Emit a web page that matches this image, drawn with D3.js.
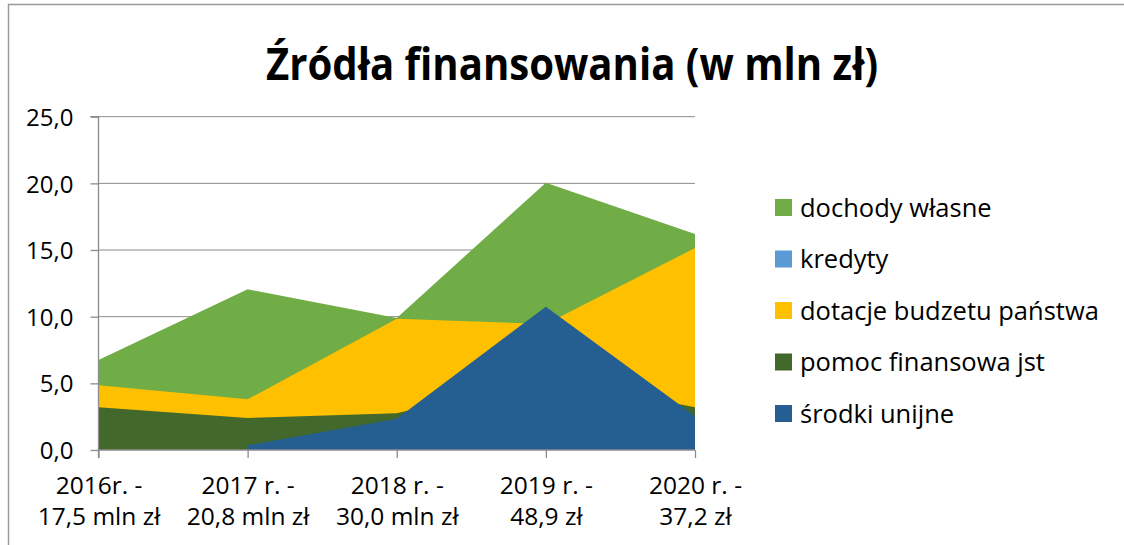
<!DOCTYPE html>
<html>
<head>
<meta charset="utf-8">
<script src="https://cdn.jsdelivr.net/npm/d3@7"></script>
<style>
  body { margin: 0; background: #fff; }
  text { font-family: "Open Sans", sans-serif; fill: #000; }
</style>
</head>
<body>
<div id="chart-container"></div>
<script>
// categories (two-line labels under the x axis)
var yearLabels = ["2016r. -", "2017 r. -", "2018 r. -", "2019 r. -", "2020 r. -"];
var totalLabels = ["17,5 mln zł", "20,8 mln zł", "30,0 mln zł", "48,9 zł", "37,2 zł"];

var seriesNames = ["dochody własne", "kredyty", "dotacje budzetu państwa", "pomoc finansowa jst", "środki unijne"];
var seriesColors = ["#70AD47", "#5B9BD5", "#FFC000", "#43682B", "#255E91"];

// values in mln zł
var dochody = [6.75, 12.05, 9.9, 20.05, 16.2];
var kredyty = [2.7, 2.2, 5.15, 3.25, 0.1];
var dotacje = [4.85, 3.8, 9.85, 9.45, 15.15];
var pomoc = [3.2, 2.4, 2.75, 5.4, 3.2];
var srodki = [null, 0.35, 2.35, 10.75, 2.55];

var yTicks = [0, 5, 10, 15, 20, 25];

var width = 1124, height = 545;
var margin = {top: 116.7, left: 98.5, bottom: 95, right: 429};
var chartWidth = width - margin.left - margin.right;
var chartHeight = 450 - margin.top;

var svg = d3.select("#chart-container").append("svg")
    .attr("width", width).attr("height", height);

// outer frame (only top and left edges visible)
svg.append("path")
    .attr("d", "M8.5," + height + "V4.5H" + width)
    .attr("fill", "none")
    .attr("stroke", "#9a9a9a")
    .attr("stroke-width", 1.5);

svg.append("text")
    .attr("x", 572).attr("y", 80)
    .attr("text-anchor", "middle")
    .attr("font-size", 45).attr("font-weight", "bold")
    .attr("textLength", 612).attr("lengthAdjust", "spacingAndGlyphs")
    .text("Źródła finansowania (w mln zł)");

var xScale = d3.scalePoint().domain(d3.range(yearLabels.length)).range([0, chartWidth]);
var yScale = d3.scaleLinear().domain([0, 25]).range([chartHeight, 0]);

var chartLayer = svg.append("g").attr("transform", "translate(" + [margin.left, margin.top] + ")");

// gridlines
chartLayer.append("g").selectAll("line")
    .data(yTicks.slice(1))
    .enter().append("line")
    .attr("x1", 0).attr("x2", chartWidth)
    .attr("y1", function(d) { return yScale(d); })
    .attr("y2", function(d) { return yScale(d); })
    .attr("stroke", "#8c8c8c").attr("stroke-width", 1);

// overlapping areas, first series at the back
var allSeries = [dochody, kredyty, dotacje, pomoc, srodki];
var area = d3.area()
    .defined(function(d) { return d != null; })
    .x(function(d, i) { return xScale(i); })
    .y0(yScale(0))
    .y1(function(d) { return yScale(d); });

chartLayer.selectAll(".area")
    .data(allSeries)
    .enter().append("path")
    .attr("class", "area")
    .attr("fill", function(d, i) { return seriesColors[i]; })
    .attr("d", area);

// axes
var yAxis = d3.axisLeft(yScale)
    .tickValues(yTicks)
    .tickSize(8)
    .tickPadding(17)
    .tickFormat(function(d) { return d.toFixed(1).replace(".", ","); });

var yG = chartLayer.append("g").call(yAxis);
yG.selectAll("text").attr("font-size", 24).attr("dy", "0.36em").attr("font-family", null);

var xAxis = d3.axisBottom(xScale).tickSize(8).tickFormat("");
var xG = chartLayer.append("g")
    .attr("transform", "translate(0," + chartHeight + ")")
    .call(xAxis);

xG.selectAll(".tick").each(function(i) {
    var t = d3.select(this).append("text")
        .attr("text-anchor", "middle")
        .attr("font-size", 24.5)
        .attr("y", 44);
    t.append("tspan").attr("x", 0).text(yearLabels[i]);
    t.append("tspan").attr("x", 0).attr("dy", 31).text(totalLabels[i]);
});

[yG, xG].forEach(function(g) {
    g.select(".domain").attr("stroke", "#8c8c8c").attr("stroke-width", 1.3);
    g.selectAll(".tick line").attr("stroke", "#8c8c8c").attr("stroke-width", 1.3);
    g.attr("font-family", null);
});
yG.select(".domain").attr("d", "M-8,0H0V" + (chartHeight + 8));
xG.select(".domain").attr("d", "M0,0H" + chartWidth);

// legend
var legend = svg.append("g").selectAll("g")
    .data(seriesNames)
    .enter().append("g")
    .attr("transform", function(d, i) { return "translate(775," + (207.5 + i * 51.5) + ")"; });

legend.append("rect")
    .attr("x", 0).attr("y", -8.5)
    .attr("width", 17).attr("height", 17)
    .attr("fill", function(d, i) { return seriesColors[i]; });

legend.append("text")
    .attr("x", 25).attr("y", 9)
    .attr("font-size", 25.5)
    .text(function(d) { return d; });
</script>
</body>
</html>
